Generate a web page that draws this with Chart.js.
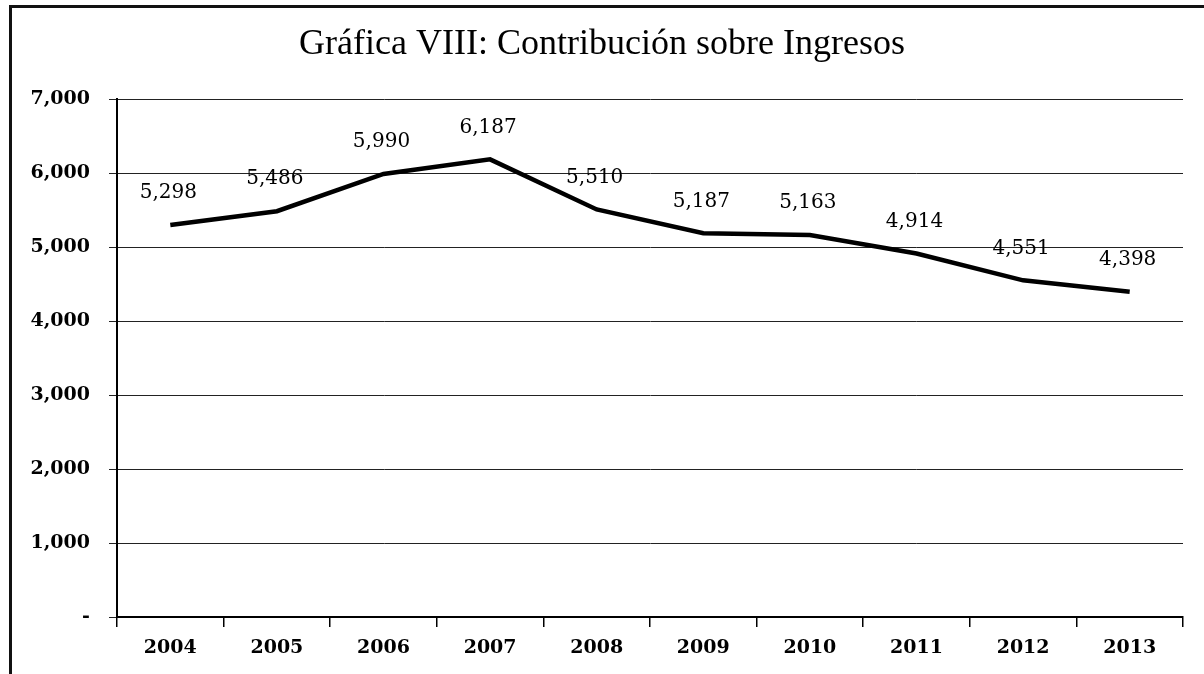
<!DOCTYPE html>
<html>
<head>
<meta charset="utf-8">
<script src="https://cdn.jsdelivr.net/npm/chart.js@4/dist/chart.umd.min.js"></script>
<style>
  html, body { margin: 0; padding: 0; background: #fff; }
  #wrap { position: relative; width: 1204px; height: 674px; overflow: hidden; }
  #frame { position: absolute; left: 9px; top: 5px; width: 1300px; height: 800px;
           border-left: 3px solid #111; border-top: 3px solid #111; }
  canvas { position: absolute; left: 0; top: 0; }
</style>
</head>
<body>
<div id="wrap">
  <div id="frame"></div>
  <canvas id="chart" width="1204" height="674"></canvas>
</div>
<script>
const years = ['2004', '2005', '2006', '2007', '2008', '2009', '2010', '2011', '2012', '2013'];
const ingresos = [5298, 5486, 5990, 6187, 5510, 5187, 5163, 4914, 4551, 4398];
const yTicks = [0, 1000, 2000, 3000, 4000, 5000, 6000, 7000];

const fmt = v => v === 0 ? '-' : v.toLocaleString('en-US');

// value labels above each point
const valueLabels = {
  id: 'valueLabels',
  afterDatasetsDraw(chart) {
    const ctx = chart.ctx;
    const meta = chart.getDatasetMeta(0);
    ctx.save();
    ctx.font = '20px "DejaVu Serif"';
    ctx.fillStyle = '#000';
    ctx.textAlign = 'center';
    ctx.textBaseline = 'middle';
    meta.data.forEach((pt, i) => {
      ctx.fillText(fmt(ingresos[i]), pt.x - 2, pt.y - 32);
    });
    ctx.restore();
  }
};

new Chart(document.getElementById('chart'), {
  type: 'line',
  data: {
    labels: years,
    datasets: [{
      label: 'Contribución sobre Ingresos',
      data: ingresos,
      borderColor: '#000',
      borderWidth: 4.5,
      pointRadius: 0,
      tension: 0,
      fill: false
    }]
  },
  options: {
    responsive: false,
    animation: false,
    layout: { padding: { left: 21, right: 21, top: 0, bottom: 0 } },
    plugins: {
      legend: { display: false },
      tooltip: { enabled: false },
      title: {
        display: true,
        text: 'Gráfica VIII: Contribución sobre Ingresos',
        color: '#000',
        font: { family: '"Liberation Serif"', size: 36, weight: 'normal', lineHeight: 1.2 },
        padding: { top: 23, bottom: 33 }
      }
    },
    scales: {
      x: {
        offset: true,
        grid: { offset: true, drawOnChartArea: false, drawTicks: true, tickLength: 10, color: '#000', lineWidth: 1.5 },
        border: { color: '#000', width: 2 },
        ticks: { color: '#000', padding: 10, maxRotation: 0,
                 font: { family: '"DejaVu Serif"', size: 19, weight: 'bold' } },
        afterFit(scale) { scale.height = 57; }
      },
      y: {
        min: 0,
        max: 7000,
        afterBuildTicks(scale) { scale.ticks = yTicks.map(v => ({ value: v })); },
        grid: { color: '#222', lineWidth: 1, tickLength: 8 },
        border: { color: '#000', width: 2 },
        ticks: { color: '#000', padding: 19, callback: v => fmt(v),
                 font: { family: '"DejaVu Serif"', size: 19, weight: 'bold' } },
        afterFit(scale) { scale.width = 96; }
      }
    }
  },
  plugins: [valueLabels]
});
</script>
</body>
</html>
